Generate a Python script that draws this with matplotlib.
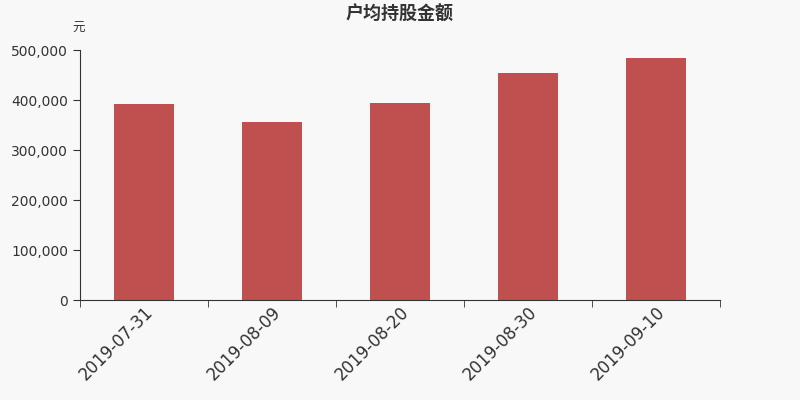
import matplotlib
matplotlib.use("Agg")
import matplotlib.pyplot as plt
from matplotlib.ticker import FuncFormatter, FixedLocator
import numpy as np

plt.rcParams['font.family'] = ['Noto Sans CJK SC', 'DejaVu Sans']

dates = ["2019-07-31", "2019-08-09", "2019-08-20", "2019-08-30", "2019-09-10"]
values = [392000, 356000, 394000, 454000, 484000]
title = "户均持股金额"
unit = "元"

bg = "#f8f8f8"
fig = plt.figure(figsize=(8, 4), dpi=100, facecolor=bg)
ax = fig.add_axes([0.1, 0.25, 0.8, 0.625], facecolor=bg)

x = np.arange(len(dates))
ax.bar(x, values, width=0.47, color="#c0504f")

ax.set_xlim(-0.5, len(dates) - 0.5)
ax.set_ylim(0, 500000)
ax.set_yticks(np.arange(0, 500001, 100000))
ax.yaxis.set_major_formatter(FuncFormatter(lambda v, p: f"{int(v):,}"))

ax.set_xticks(x)
ax.set_xticklabels(dates, rotation=45, ha="right", rotation_mode="anchor",
                   fontsize=12, color="#333333", family="DejaVu Sans")
ax.xaxis.set_minor_locator(FixedLocator(np.arange(-0.5, len(dates), 1.0)))
ax.tick_params(axis="x", which="major", length=0, pad=2)
ax.tick_params(axis="x", which="minor", length=5, color="#333333", direction="out")
ax.tick_params(axis="y", length=5, color="#333333", labelsize=10, labelcolor="#333333")
for lab in ax.get_yticklabels():
    lab.set_family("DejaVu Sans")

for s in ["top", "right"]:
    ax.spines[s].set_visible(False)
for s in ["left", "bottom"]:
    ax.spines[s].set_color("#333333")

fig.text(0.5, 0.965, title, ha="center", va="center", fontsize=13,
         fontweight="bold", color="#333333")
fig.text(0.098, 0.93, unit, ha="center", va="center", fontsize=9, color="#333333")

fig.savefig("out.png", dpi=100, facecolor=bg)
